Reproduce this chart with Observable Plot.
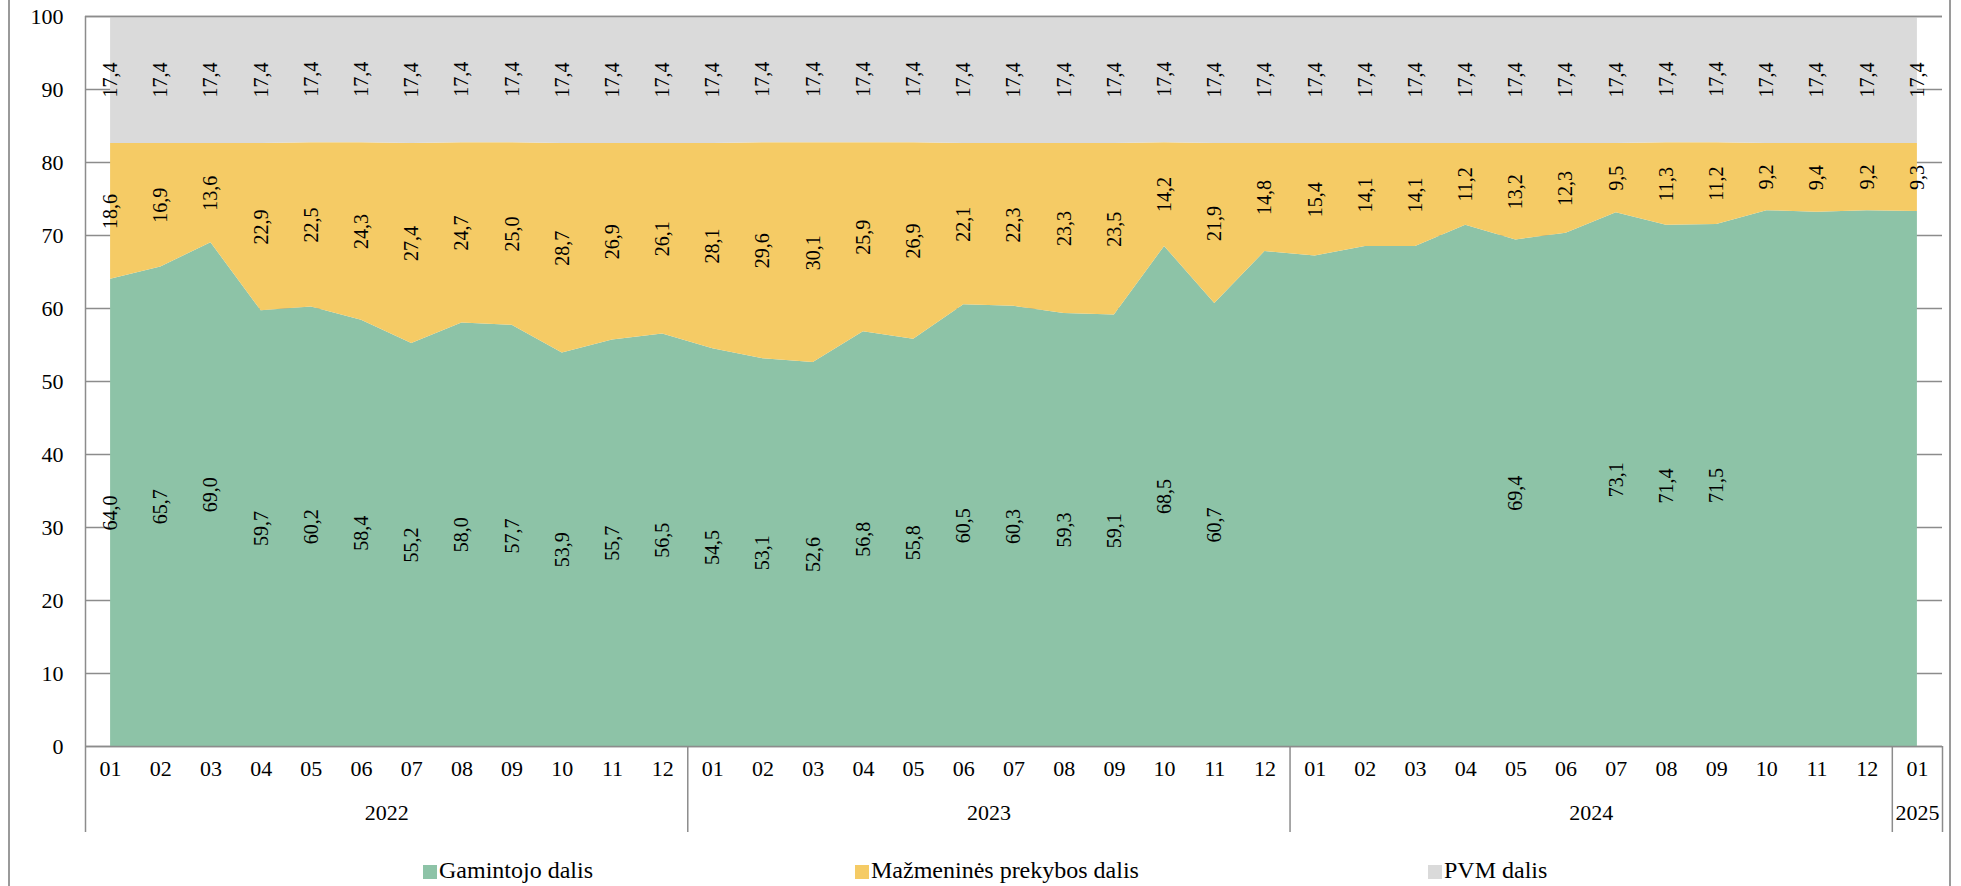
<!DOCTYPE html>
<html>
<head>
<meta charset="utf-8">
<script src="https://cdn.jsdelivr.net/npm/d3@7"></script>
<script src="https://cdn.jsdelivr.net/npm/@observablehq/plot@0.6"></script>
<style>
  html, body { margin: 0; padding: 0; background: white; }
  #wrap { position: relative; width: 1961px; height: 886px; overflow: hidden; font-family: "Liberation Serif", "Times New Roman", serif; }
  #frame { position: absolute; left: 8px; top: -5px; width: 1943px; height: 900px; border-left: 2px solid #9a9a9a; border-right: 2px solid #9a9a9a; box-sizing: border-box; pointer-events: none; }
  .leg { position: absolute; top: 852px; height: 36px; line-height: 36px; font-size: 24px; color: #000; white-space: nowrap; }
  .sw { display: inline-block; width: 14px; height: 14px; margin-right: 2px; vertical-align: -1px; }
</style>
</head>
<body>
<div id="wrap">
  <div id="chart"></div>
  <div id="legend"></div>
  <div id="frame"></div>
</div>
<script>
// ---- data ----
const months = ["01","02","03","04","05","06","07","08","09","10","11","12",
                "01","02","03","04","05","06","07","08","09","10","11","12",
                "01","02","03","04","05","06","07","08","09","10","11","12",
                "01"];
const years = ["2022", "2023", "2024", "2025"];
const yearStart = [0, 12, 24, 36];
const yearEnd = [12, 24, 36, 37];

const seriesNames = ["Gamintojo dalis", "Mažmeninės prekybos dalis", "PVM dalis"];
const seriesColors = ["#8DC3A7", "#F5CB65", "#DADADA"];

const producer = [64.0, 65.7, 69.0, 59.7, 60.2, 58.4, 55.2, 58.0, 57.7, 53.9, 55.7, 56.5,
                  54.5, 53.1, 52.6, 56.8, 55.8, 60.5, 60.3, 59.3, 59.1, 68.5, 60.7, 67.8,
                  67.2, 68.5, 68.5, 71.4, 69.4, 70.3, 73.1, 71.4, 71.5, 73.4, 73.2, 73.4,
                  73.3];
const retail = [18.6, 16.9, 13.6, 22.9, 22.5, 24.3, 27.4, 24.7, 25.0, 28.7, 26.9, 26.1,
                28.1, 29.6, 30.1, 25.9, 26.9, 22.1, 22.3, 23.3, 23.5, 14.2, 21.9, 14.8,
                15.4, 14.1, 14.1, 11.2, 13.2, 12.3, 9.5, 11.3, 11.2, 9.2, 9.4, 9.2,
                9.3];
const vat = [17.4, 17.4, 17.4, 17.4, 17.4, 17.4, 17.4, 17.4, 17.4, 17.4, 17.4, 17.4,
             17.4, 17.4, 17.4, 17.4, 17.4, 17.4, 17.4, 17.4, 17.4, 17.4, 17.4, 17.4,
             17.4, 17.4, 17.4, 17.4, 17.4, 17.4, 17.4, 17.4, 17.4, 17.4, 17.4, 17.4,
             17.4];
// which producer-share labels are shown in the original
const producerLabelShown = [1,1,1,1,1,1,1,1,1,1,1,1,
                            1,1,1,1,1,1,1,1,1,1,1,0,
                            0,0,0,0,1,0,1,1,1,0,0,0,
                            0];
const yTicks = [0, 10, 20, 30, 40, 50, 60, 70, 80, 90, 100];

// ---- build long table ----
const seriesValues = [producer, retail, vat];
const rows = [];
seriesNames.forEach((s, k) => {
  seriesValues[k].forEach((v, i) => {
    rows.push({i, xi: i + 0.5, series: s, value: v,
               show: k === 0 ? producerLabelShown[i] === 1 : true});
  });
});
const fmt = v => v.toFixed(1).replace(".", ",");

const yearRows = years.map((y, k) => ({label: y, xm: (yearStart[k] + yearEnd[k]) / 2}));
const sepX = [12, 24, 36, 37];

const W = 1961, H = 852;
const mTop = 16, mBottom = 106, mLeft = 85, mRight = 19;
const frameH = H - mTop - mBottom;
const grid = "#8c8c8c";

const chart = Plot.plot({
  width: W,
  height: H,
  marginTop: mTop,
  marginBottom: mBottom,
  marginLeft: mLeft,
  marginRight: mRight,
  style: {fontFamily: "Liberation Serif", fontSize: "22px", color: "#000", background: "white", overflow: "visible"},
  x: {type: "linear", domain: [0, months.length], axis: null},
  y: {domain: [0, 100], clamp: true, axis: null},
  color: {domain: seriesNames, range: seriesColors},
  marks: [
    Plot.ruleY(yTicks, {stroke: grid, strokeWidth: 1.3}),
    Plot.areaY(rows, {x: "xi", y: "value", z: "series", fill: "series", order: seriesNames, curve: "linear"}),
    Plot.ruleY([0, 100], {stroke: grid, strokeWidth: 1.3}),
    // left axis line, extended down through the category rows
    Plot.ruleX([0], {stroke: grid, strokeWidth: 1.5, insetBottom: -86}),
    // year group separators
    Plot.ruleX(sepX, {stroke: grid, strokeWidth: 1.5, insetTop: frameH, insetBottom: -86}),
    Plot.axisY({ticks: yTicks, tickSize: 0, tickPadding: 22, fontSize: 22, label: null, tickFormat: d => String(d)}),
    // month labels
    Plot.text(months, {x: (d, i) => i + 0.5, text: d => d, frameAnchor: "bottom", dy: 29, fontSize: 22, fill: "#000"}),
    // year labels
    Plot.text(yearRows, {x: "xm", text: "label", frameAnchor: "bottom", dy: 73, fontSize: 22, fill: "#000"}),
    // data labels
    Plot.text(rows, Plot.stackY({
      x: "xi", y: "value", z: "series", order: seriesNames,
      text: d => d.show ? fmt(d.value) : "",
      rotate: -90, fontSize: 20, fill: "#000", textAnchor: "middle", lineAnchor: "middle"
    }))
  ]
});
document.getElementById("chart").appendChild(chart);

// ---- legend ----
const legX = [423, 855, 1428];
const leg = document.getElementById("legend");
seriesNames.forEach((s, k) => {
  const d = document.createElement("div");
  d.className = "leg";
  d.style.left = legX[k] + "px";
  d.innerHTML = `<span class="sw" style="background:${seriesColors[k]}"></span>${s}`;
  leg.appendChild(d);
});
</script>
</body>
</html>
